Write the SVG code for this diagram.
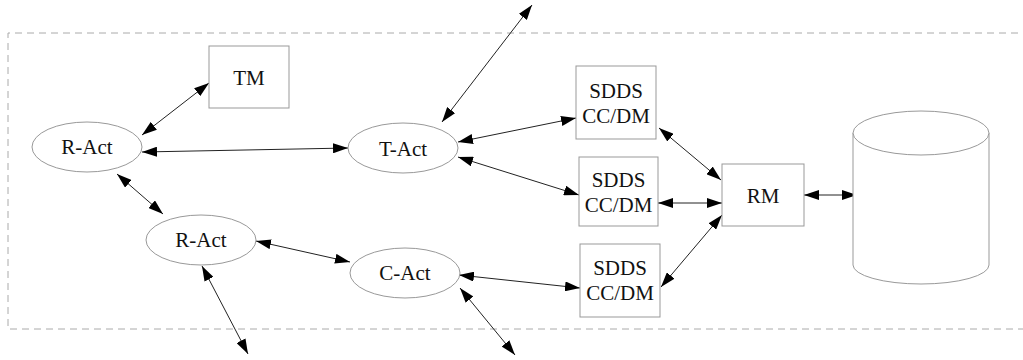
<svg xmlns="http://www.w3.org/2000/svg" width="1023" height="360" viewBox="0 0 1023 360">
  <style>
    .node { fill: #fff; stroke: #999; stroke-width: 1; }
    .label { font-family: "Liberation Serif", "Times New Roman", serif; font-size: 21px; fill: #111; text-anchor: middle; }
    .edge { stroke: #222; stroke-width: 1; fill: none; marker-start: url(#head); marker-end: url(#head); }
    .frame { fill: none; stroke: #aaa; stroke-width: 1; stroke-dasharray: 7 5; }
  </style>
  <defs>
    <marker id="head" viewBox="0 0 15 10" refX="15" refY="5" markerWidth="15" markerHeight="10" markerUnits="userSpaceOnUse" orient="auto-start-reverse">
      <path d="M0,0 L15,5 L0,10 z" fill="#000"/>
    </marker>
  </defs>
  <rect width="1023" height="360" fill="#fff"/>

  <!-- system boundary -->
  <path class="frame" d="M1030,33 L8,33 L8,329 L1030,329"/>

  <!-- connectors -->
  <g id="connectors">
    <line class="edge" x1="142" y1="135" x2="209" y2="83"/>
    <line class="edge" x1="142" y1="152" x2="348" y2="148"/>
    <line class="edge" x1="117" y1="174" x2="163" y2="214"/>
    <line class="edge" x1="256" y1="241" x2="350" y2="262"/>
    <line class="edge" x1="202" y1="266" x2="248" y2="354"/>
    <line class="edge" x1="442" y1="122" x2="532" y2="5"/>
    <line class="edge" x1="458" y1="142" x2="576" y2="118"/>
    <line class="edge" x1="458" y1="157" x2="579" y2="195"/>
    <line class="edge" x1="459" y1="275" x2="580" y2="288"/>
    <line class="edge" x1="460" y1="288" x2="515" y2="355"/>
    <line class="edge" x1="659" y1="128" x2="721" y2="180"/>
    <line class="edge" x1="658" y1="203" x2="722" y2="203"/>
    <line class="edge" x1="661" y1="287" x2="722" y2="215"/>
    <line class="edge" x1="804" y1="195" x2="857" y2="195"/>
  </g>

  <g id="tm">
    <rect class="node" x="209" y="46" width="80" height="62"/>
    <text class="label" x="249" y="85">TM</text>
  </g>

  <g id="r-act-1">
    <ellipse class="node" cx="87" cy="147" rx="55" ry="25"/>
    <text class="label" x="87" y="154">R-Act</text>
  </g>

  <g id="r-act-2">
    <ellipse class="node" cx="201" cy="240" rx="55" ry="25"/>
    <text class="label" x="201" y="247">R-Act</text>
  </g>

  <g id="t-act">
    <ellipse class="node" cx="403" cy="148" rx="55" ry="25"/>
    <text class="label" x="403" y="156">T-Act</text>
  </g>

  <g id="c-act">
    <ellipse class="node" cx="405" cy="273" rx="55" ry="25"/>
    <text class="label" x="405" y="280">C-Act</text>
  </g>

  <g id="sdds-1">
    <rect class="node" x="576" y="66" width="80" height="73"/>
    <text class="label" x="616" y="98">SDDS</text>
    <text class="label" x="616" y="123">CC/DM</text>
  </g>

  <g id="sdds-2">
    <rect class="node" x="579" y="157" width="79" height="69"/>
    <text class="label" x="618.5" y="187">SDDS</text>
    <text class="label" x="618.5" y="212">CC/DM</text>
  </g>

  <g id="sdds-3">
    <rect class="node" x="580" y="244" width="80" height="73"/>
    <text class="label" x="620" y="275">SDDS</text>
    <text class="label" x="620" y="300">CC/DM</text>
  </g>

  <g id="rm">
    <rect class="node" x="722" y="164" width="82" height="62"/>
    <text class="label" x="763" y="203">RM</text>
  </g>

  <g id="store">
    <path class="node" d="M853,133 L853,265 A68,19 0 0 0 989,265 L989,133"/>
    <ellipse class="node" cx="921" cy="133" rx="68" ry="22"/>
  </g>
</svg>
